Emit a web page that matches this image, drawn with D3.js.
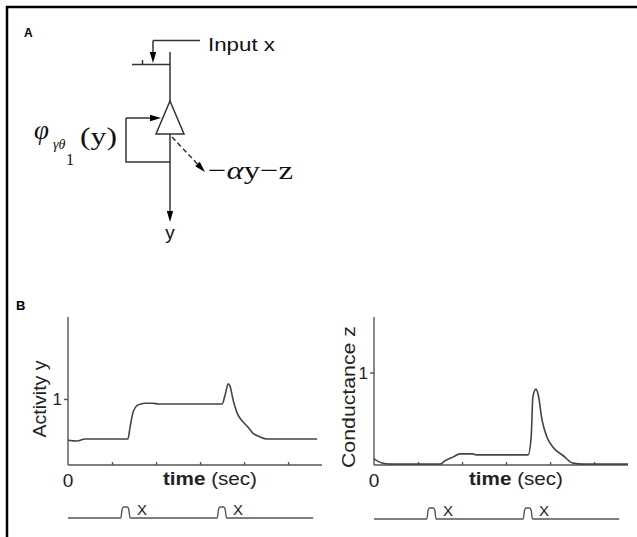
<!DOCTYPE html>
<html>
<head>
<meta charset="utf-8">
<script src="https://cdn.jsdelivr.net/npm/d3@7"></script>
<style>
  body { margin: 0; background: #fff; }
  svg { display: block; }
</style>
</head>
<body>
<div id="chart"></div>
<script>
const width = 637, height = 537;

// time axis (sec), ticks every 1 sec
const xTicks = [0, 1, 2, 3, 4, 5];
const timeMax = 5.77;

// Activity y trace (panel B left)
const activityT = [0, 0.2, 0.39, 1.36, 1.41, 1.48, 1.59, 1.75, 1.93, 2.05, 3.5, 3.57, 3.64, 3.68, 3.75, 3.84, 3.98, 4.09, 4.2, 4.36, 4.52, 5.66];
const activityV = [0.02, 0, 0.05, 0.05, 0.33, 0.69, 0.86, 0.9, 0.9, 0.88, 0.88, 1.1, 1.36, 1.31, 0.98, 0.67, 0.45, 0.33, 0.19, 0.1, 0.05, 0.05];

// Conductance z trace (panel B right)
const conductT = [0, 0.18, 0.36, 1.5, 1.61, 1.8, 1.95, 2.23, 2.32, 3.5, 3.57, 3.61, 3.68, 3.73, 3.82, 3.93, 4.07, 4.3, 4.52, 4.75, 5.77];
const conductV = [0.066, 0.022, 0.01, 0.01, 0.044, 0.088, 0.12, 0.12, 0.11, 0.11, 0.3, 0.74, 0.82, 0.76, 0.48, 0.3, 0.19, 0.1, 0.02, 0.01, 0.01];

// input x pulses
const inputT = [0, 1.2, 1.23, 1.26, 1.35, 1.38, 1.41, 3.39, 3.42, 3.45, 3.54, 3.57, 3.6, 5.57];
const inputV = [0, 0, 0.8, 1, 1, 0.8, 0, 0, 0.8, 1, 1, 0.8, 0, 0];
const pulseLabelT = [1.68, 3.86];

const svg = d3.select("#chart").append("svg")
  .attr("width", width)
  .attr("height", height);

const ink = "#333";
const sans = "'Liberation Sans', Arial, sans-serif";
const serif = "'Liberation Serif', 'Times New Roman', serif";

// frame (only top and left edges visible)
svg.append("path")
  .attr("d", "M7,537 V7 H637")
  .attr("fill", "none")
  .attr("stroke", "#000")
  .attr("stroke-width", 2.5);

// ---------- Panel A: diagram ----------
const A = svg.append("g");
A.append("text").attr("x", 24).attr("y", 37).text("A")
  .style("font-family", sans).style("font-size", "12px").style("font-weight", "bold");

function arrow(x1, y1, x2, y2, dashed) {
  const ang = Math.atan2(y2 - y1, x2 - x1);
  const len = 11, half = 3.2;
  const bx = x2 - len * Math.cos(ang), by = y2 - len * Math.sin(ang);
  A.append("line")
    .attr("x1", x1).attr("y1", y1).attr("x2", bx).attr("y2", by)
    .attr("stroke", ink).attr("stroke-width", 1.5)
    .attr("stroke-dasharray", dashed ? "5,3" : null);
  const px = -Math.sin(ang) * half, py = Math.cos(ang) * half;
  A.append("path")
    .attr("d", `M${x2},${y2} L${bx + px},${by + py} L${bx - px},${by - py} Z`)
    .attr("fill", "#000");
}

// input x line and arrow
A.append("path").attr("d", "M200,40.5 H153").attr("fill", "none").attr("stroke", ink).attr("stroke-width", 1.5);
arrow(153, 40.5, 153, 63);
A.append("path").attr("d", "M132,64.5 H170 M142.5,64.5 V60").attr("fill", "none").attr("stroke", ink).attr("stroke-width", 1.5);
A.append("text").attr("x", 208).attr("y", 51).text("Input x")
  .attr("textLength", 67).attr("lengthAdjust", "spacingAndGlyphs")
  .style("font-family", sans).style("font-size", "18px").attr("fill", "#111");

// vertical line into triangle
A.append("line").attr("x1", 170).attr("y1", 52).attr("x2", 170).attr("y2", 101)
  .attr("stroke", ink).attr("stroke-width", 1.5);
// triangle
A.append("path").attr("d", "M170,101 L184,134 L156,134 Z")
  .attr("fill", "#fff").attr("stroke", ink).attr("stroke-width", 1.5);
// feedback loop
A.append("path").attr("d", "M170,162 H126 V118").attr("fill", "none").attr("stroke", ink).attr("stroke-width", 1.5);
arrow(126, 118, 161, 118);
// output
arrow(170, 134, 170, 222);
A.append("text").attr("x", 170).attr("y", 239).attr("text-anchor", "middle").text("y")
  .style("font-family", sans).style("font-size", "19px").attr("fill", "#111");
// dashed output
arrow(172, 137, 205, 172, true);
const fx = A.append("text").attr("x", 208).attr("y", 179)
  .attr("textLength", 85).attr("lengthAdjust", "spacingAndGlyphs")
  .style("font-family", serif).style("font-size", "26px").attr("fill", "#111");
fx.append("tspan").text("\u2212");
fx.append("tspan").text("\u03b1").style("font-style", "italic");
fx.append("tspan").text("y\u2212z");

// phi label
A.append("text").attr("x", 34).attr("y", 139).text("\u03c6")
  .style("font-family", serif).style("font-size", "27px").style("font-style", "italic").attr("fill", "#111");
A.append("text").attr("x", 53).attr("y", 149).text("\u03b3\u03b8")
  .style("font-family", serif).style("font-size", "14px").style("font-style", "italic").attr("fill", "#111");
A.append("text").attr("x", 66).attr("y", 165).text("1")
  .style("font-family", serif).style("font-size", "16px").attr("fill", "#111");
A.append("text").attr("x", 80).attr("y", 145).text("(y)")
  .attr("textLength", 37).attr("lengthAdjust", "spacingAndGlyphs")
  .style("font-family", serif).style("font-size", "26px").attr("fill", "#111");

// ---------- Panel B: traces ----------
svg.append("text").attr("x", 16).attr("y", 310).text("B")
  .style("font-family", sans).style("font-size", "13px").style("font-weight", "bold");

function panel(opts) {
  const g = svg.append("g");
  const x = d3.scaleLinear().domain([0, timeMax]).range([opts.x0, opts.x0 + 254]);
  const y = d3.scaleLinear().domain(opts.yDomain).range([465, 317]);

  // axes
  g.append("g").attr("transform", "translate(0,465)")
    .call(d3.axisBottom(x).tickValues(xTicks.slice(1)).tickSize(-3).tickFormat(""))
    .call(s => s.select(".domain").attr("d", `M${opts.x0},0 H${opts.x0 + 254}`))
    .call(s => s.selectAll("path,line").attr("stroke", "#555").attr("stroke-width", 1.4));
  g.append("g").attr("transform", `translate(${opts.x0},0)`)
    .call(d3.axisLeft(y).tickValues([1]).tickSize(4).tickFormat(""))
    .call(s => s.select(".domain").attr("d", "M0,317 V465"))
    .call(s => s.selectAll("path,line").attr("stroke", "#555").attr("stroke-width", 1.4));
  g.append("text").attr("x", opts.x0 - 6).attr("y", y(1) + 6).attr("text-anchor", "end").text("1")
    .style("font-family", sans).style("font-size", "17px").attr("fill", "#222");
  g.append("text").attr("x", x(0)).attr("y", 487).attr("text-anchor", "middle").text("0")
    .style("font-family", sans).style("font-size", "19px").attr("fill", "#222");

  const tl = g.append("text").attr("x", opts.x0 + 95).attr("y", 485)
    .attr("textLength", 94).attr("lengthAdjust", "spacingAndGlyphs")
    .style("font-family", sans).style("font-size", "19px").attr("fill", "#222");
  tl.append("tspan").text("time ").style("font-weight", "bold");
  tl.append("tspan").text("(sec)");

  g.append("text")
    .attr("transform", `translate(${opts.labelX},${opts.labelY}) rotate(-90)`)
    .attr("text-anchor", "middle").text(opts.label)
    .attr("textLength", opts.labelLen).attr("lengthAdjust", "spacingAndGlyphs")
    .style("font-family", sans).style("font-size", "19px").attr("fill", "#222");

  // trace
  const pts = opts.t.map((t, i) => [t, opts.v[i]]);
  g.append("path").datum(pts)
    .attr("d", d3.line().x(d => x(d[0])).y(d => y(d[1])).curve(d3.curveMonotoneX))
    .attr("fill", "none").attr("stroke", "#444").attr("stroke-width", 1.6);

  // input pulses
  const yi = d3.scaleLinear().domain([0, 1]).range([opts.inputY, opts.inputY - 11]);
  const ipts = inputT.map((t, i) => [t, inputV[i]]);
  g.append("path").datum(ipts)
    .attr("d", d3.line().x(d => x(d[0])).y(d => yi(d[1])).curve(d3.curveMonotoneX))
    .attr("fill", "none").attr("stroke", "#555").attr("stroke-width", 1.4);
  g.selectAll(".xl").data(pulseLabelT).join("text")
    .attr("x", d => x(d)).attr("y", opts.inputY - 3).attr("text-anchor", "middle").text("X")
    .style("font-family", sans).style("font-size", "15px").attr("fill", "#222");
}

panel({ x0: 68, yDomain: [-0.57, 2.95], t: activityT, v: activityV,
  label: "Activity y", labelX: 46, labelY: 399, labelLen: 77, inputY: 518 });
panel({ x0: 374, yDomain: [0, 1.6], t: conductT, v: conductV,
  label: "Conductance z", labelX: 355, labelY: 397, labelLen: 142, inputY: 519 });
</script>
</body>
</html>
